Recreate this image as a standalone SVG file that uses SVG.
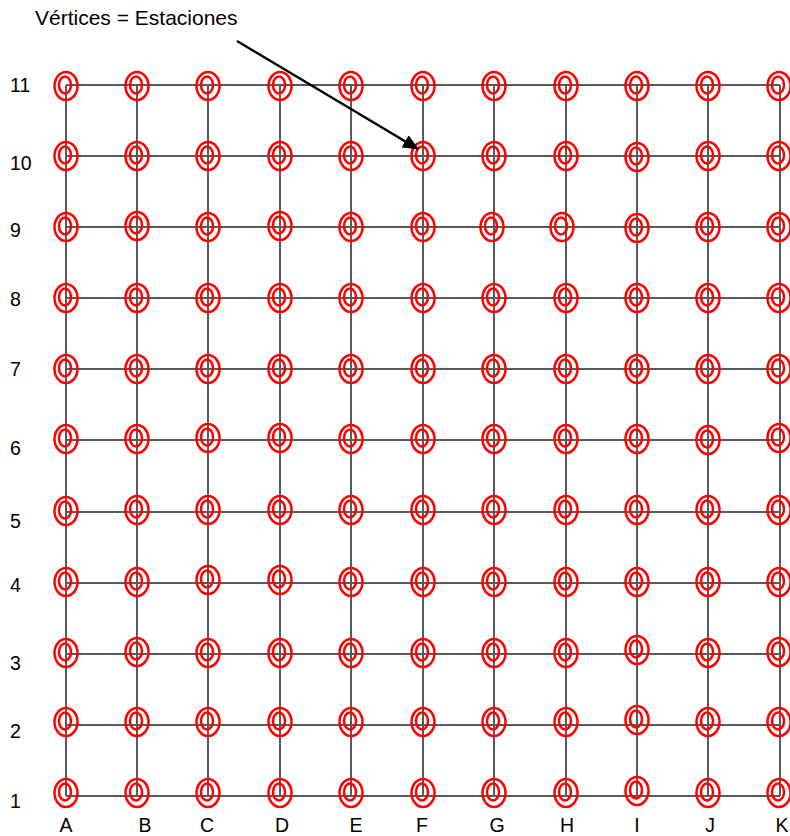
<svg xmlns="http://www.w3.org/2000/svg" xmlns:xlink="http://www.w3.org/1999/xlink" width="790" height="836" viewBox="0 0 790 836">
<style>
.bg{fill:#fff}
.grid line{stroke:#5a5a5a;stroke-width:2}
.st ellipse{fill:none;stroke:#ff0000;stroke-width:2.5}
.lbl{font-family:"Liberation Sans",Arial,sans-serif;font-size:19.5px;fill:#000}
.ttl{font-family:"Liberation Sans",Arial,sans-serif;font-size:21px;fill:#000}
.arrow{stroke:#000;stroke-width:2.5;fill:none}
</style>
<defs>
<g id="st" class="st"><ellipse cx="0" cy="0" rx="11.5" ry="14"/><ellipse cx="-1" cy="-1" rx="6" ry="8.5"/></g>
<marker id="ah" markerWidth="16" markerHeight="14" refX="15" refY="7" orient="auto" markerUnits="userSpaceOnUse" viewBox="0 0 16 14"><path d="M0,0 L16,7 L0,14 z" fill="#000"/></marker>
</defs>
<rect class="bg" x="0" y="0" width="790" height="836"/>
<g id="connectors" class="grid">
<line x1="66" y1="85" x2="780" y2="85"/>
<line x1="66" y1="156" x2="780" y2="156"/>
<line x1="66" y1="227" x2="780" y2="227"/>
<line x1="66" y1="298" x2="780" y2="298"/>
<line x1="66" y1="369" x2="780" y2="369"/>
<line x1="66" y1="440" x2="780" y2="440"/>
<line x1="66" y1="512" x2="780" y2="512"/>
<line x1="66" y1="583" x2="780" y2="583"/>
<line x1="66" y1="654" x2="780" y2="654"/>
<line x1="66" y1="725" x2="780" y2="725"/>
<line x1="66" y1="796" x2="780" y2="796"/>
<line x1="66" y1="85" x2="66" y2="796"/>
<line x1="137" y1="85" x2="137" y2="796"/>
<line x1="208" y1="85" x2="208" y2="796"/>
<line x1="280" y1="85" x2="280" y2="796"/>
<line x1="351" y1="85" x2="351" y2="796"/>
<line x1="423" y1="85" x2="423" y2="796"/>
<line x1="494" y1="85" x2="494" y2="796"/>
<line x1="566" y1="85" x2="566" y2="796"/>
<line x1="637" y1="85" x2="637" y2="796"/>
<line x1="708" y1="85" x2="708" y2="796"/>
<line x1="780" y1="85" x2="780" y2="796"/>
</g>
<g id="nodes">
<g id="A11" transform="translate(66 86)"><use href="#st"/></g>
<g id="B11" transform="translate(137 86)"><use href="#st"/></g>
<g id="C11" transform="translate(208 86)"><use href="#st"/></g>
<g id="D11" transform="translate(280 86)"><use href="#st"/></g>
<g id="E11" transform="translate(351 86)"><use href="#st"/></g>
<g id="F11" transform="translate(423 86)"><use href="#st"/></g>
<g id="G11" transform="translate(494 86)"><use href="#st"/></g>
<g id="H11" transform="translate(566 86)"><use href="#st"/></g>
<g id="I11" transform="translate(637 86)"><use href="#st"/></g>
<g id="J11" transform="translate(708 86)"><use href="#st"/></g>
<g id="K11" transform="translate(779 86)"><use href="#st"/></g>
<g id="A10" transform="translate(66 156)"><use href="#st"/></g>
<g id="B10" transform="translate(137 156)"><use href="#st"/></g>
<g id="C10" transform="translate(208 156)"><use href="#st"/></g>
<g id="D10" transform="translate(280 156)"><use href="#st"/></g>
<g id="E10" transform="translate(351 156)"><use href="#st"/></g>
<g id="F10" transform="translate(423 156)"><use href="#st"/></g>
<g id="G10" transform="translate(494 156)"><use href="#st"/></g>
<g id="H10" transform="translate(566 156)"><use href="#st"/></g>
<g id="I10" transform="translate(637 157)"><use href="#st"/></g>
<g id="J10" transform="translate(708 156)"><use href="#st"/></g>
<g id="K10" transform="translate(779 156)"><use href="#st"/></g>
<g id="A9" transform="translate(66 227)"><use href="#st"/></g>
<g id="B9" transform="translate(137 226)"><use href="#st"/></g>
<g id="C9" transform="translate(208 227)"><use href="#st"/></g>
<g id="D9" transform="translate(280 226)"><use href="#st"/></g>
<g id="E9" transform="translate(351 227)"><use href="#st"/></g>
<g id="F9" transform="translate(423 227)"><use href="#st"/></g>
<g id="G9" transform="translate(492 227)"><use href="#st"/></g>
<g id="H9" transform="translate(562 227)"><use href="#st"/></g>
<g id="I9" transform="translate(637 228)"><use href="#st"/></g>
<g id="J9" transform="translate(708 227)"><use href="#st"/></g>
<g id="K9" transform="translate(779 227)"><use href="#st"/></g>
<g id="A8" transform="translate(66 298)"><use href="#st"/></g>
<g id="B8" transform="translate(137 298)"><use href="#st"/></g>
<g id="C8" transform="translate(208 298)"><use href="#st"/></g>
<g id="D8" transform="translate(280 298)"><use href="#st"/></g>
<g id="E8" transform="translate(351 298)"><use href="#st"/></g>
<g id="F8" transform="translate(423 298)"><use href="#st"/></g>
<g id="G8" transform="translate(494 298)"><use href="#st"/></g>
<g id="H8" transform="translate(566 298)"><use href="#st"/></g>
<g id="I8" transform="translate(637 298)"><use href="#st"/></g>
<g id="J8" transform="translate(708 298)"><use href="#st"/></g>
<g id="K8" transform="translate(779 298)"><use href="#st"/></g>
<g id="A7" transform="translate(66 369)"><use href="#st"/></g>
<g id="B7" transform="translate(137 369)"><use href="#st"/></g>
<g id="C7" transform="translate(208 369)"><use href="#st"/></g>
<g id="D7" transform="translate(280 369)"><use href="#st"/></g>
<g id="E7" transform="translate(351 369)"><use href="#st"/></g>
<g id="F7" transform="translate(423 369)"><use href="#st"/></g>
<g id="G7" transform="translate(494 369)"><use href="#st"/></g>
<g id="H7" transform="translate(566 369)"><use href="#st"/></g>
<g id="I7" transform="translate(637 369)"><use href="#st"/></g>
<g id="J7" transform="translate(708 369)"><use href="#st"/></g>
<g id="K7" transform="translate(779 369)"><use href="#st"/></g>
<g id="A6" transform="translate(66 439)"><use href="#st"/></g>
<g id="B6" transform="translate(137 439)"><use href="#st"/></g>
<g id="C6" transform="translate(208 438)"><use href="#st"/></g>
<g id="D6" transform="translate(280 438)"><use href="#st"/></g>
<g id="E6" transform="translate(351 439)"><use href="#st"/></g>
<g id="F6" transform="translate(423 439)"><use href="#st"/></g>
<g id="G6" transform="translate(494 439)"><use href="#st"/></g>
<g id="H6" transform="translate(566 439)"><use href="#st"/></g>
<g id="I6" transform="translate(637 439)"><use href="#st"/></g>
<g id="J6" transform="translate(708 440)"><use href="#st"/></g>
<g id="K6" transform="translate(779 438)"><use href="#st"/></g>
<g id="A5" transform="translate(66 511)"><use href="#st"/></g>
<g id="B5" transform="translate(137 510)"><use href="#st"/></g>
<g id="C5" transform="translate(208 510)"><use href="#st"/></g>
<g id="D5" transform="translate(280 510)"><use href="#st"/></g>
<g id="E5" transform="translate(351 510)"><use href="#st"/></g>
<g id="F5" transform="translate(423 510)"><use href="#st"/></g>
<g id="G5" transform="translate(494 510)"><use href="#st"/></g>
<g id="H5" transform="translate(566 510)"><use href="#st"/></g>
<g id="I5" transform="translate(637 510)"><use href="#st"/></g>
<g id="J5" transform="translate(708 510)"><use href="#st"/></g>
<g id="K5" transform="translate(779 510)"><use href="#st"/></g>
<g id="A4" transform="translate(66 582)"><use href="#st"/></g>
<g id="B4" transform="translate(137 582)"><use href="#st"/></g>
<g id="C4" transform="translate(208 580)"><use href="#st"/></g>
<g id="D4" transform="translate(280 580)"><use href="#st"/></g>
<g id="E4" transform="translate(351 582)"><use href="#st"/></g>
<g id="F4" transform="translate(423 582)"><use href="#st"/></g>
<g id="G4" transform="translate(494 582)"><use href="#st"/></g>
<g id="H4" transform="translate(566 582)"><use href="#st"/></g>
<g id="I4" transform="translate(637 582)"><use href="#st"/></g>
<g id="J4" transform="translate(708 582)"><use href="#st"/></g>
<g id="K4" transform="translate(779 582)"><use href="#st"/></g>
<g id="A3" transform="translate(66 653)"><use href="#st"/></g>
<g id="B3" transform="translate(137 652)"><use href="#st"/></g>
<g id="C3" transform="translate(208 653)"><use href="#st"/></g>
<g id="D3" transform="translate(280 653)"><use href="#st"/></g>
<g id="E3" transform="translate(351 653)"><use href="#st"/></g>
<g id="F3" transform="translate(423 653)"><use href="#st"/></g>
<g id="G3" transform="translate(494 653)"><use href="#st"/></g>
<g id="H3" transform="translate(566 653)"><use href="#st"/></g>
<g id="I3" transform="translate(637 650)"><use href="#st"/></g>
<g id="J3" transform="translate(708 653)"><use href="#st"/></g>
<g id="K3" transform="translate(779 652)"><use href="#st"/></g>
<g id="A2" transform="translate(66 722)"><use href="#st"/></g>
<g id="B2" transform="translate(137 722)"><use href="#st"/></g>
<g id="C2" transform="translate(208 722)"><use href="#st"/></g>
<g id="D2" transform="translate(280 722)"><use href="#st"/></g>
<g id="E2" transform="translate(351 722)"><use href="#st"/></g>
<g id="F2" transform="translate(423 722)"><use href="#st"/></g>
<g id="G2" transform="translate(494 722)"><use href="#st"/></g>
<g id="H2" transform="translate(566 722)"><use href="#st"/></g>
<g id="I2" transform="translate(637 720)"><use href="#st"/></g>
<g id="J2" transform="translate(708 722)"><use href="#st"/></g>
<g id="K2" transform="translate(779 722)"><use href="#st"/></g>
<g id="A1" transform="translate(66 793)"><use href="#st"/></g>
<g id="B1" transform="translate(137 793)"><use href="#st"/></g>
<g id="C1" transform="translate(208 793)"><use href="#st"/></g>
<g id="D1" transform="translate(280 793)"><use href="#st"/></g>
<g id="E1" transform="translate(351 793)"><use href="#st"/></g>
<g id="F1" transform="translate(423 793)"><use href="#st"/></g>
<g id="G1" transform="translate(494 793)"><use href="#st"/></g>
<g id="H1" transform="translate(566 793)"><use href="#st"/></g>
<g id="I1" transform="translate(637 791)"><use href="#st"/></g>
<g id="J1" transform="translate(708 793)"><use href="#st"/></g>
<g id="K1" transform="translate(779 793)"><use href="#st"/></g>
</g>
<g id="row-labels" class="lbl">
<text x="10" y="92">11</text>
<text x="10" y="170">10</text>
<text x="10" y="237">9</text>
<text x="10" y="306">8</text>
<text x="10" y="376">7</text>
<text x="10" y="455">6</text>
<text x="10" y="528">5</text>
<text x="10" y="592">4</text>
<text x="10" y="670">3</text>
<text x="10" y="738">2</text>
<text x="10" y="808">1</text>
</g>
<g id="col-labels" class="lbl" text-anchor="middle">
<text x="66" y="832">A</text>
<text x="145" y="832">B</text>
<text x="207" y="832">C</text>
<text x="282" y="832">D</text>
<text x="356" y="832">E</text>
<text x="422" y="832">F</text>
<text x="497" y="832">G</text>
<text x="567" y="832">H</text>
<text x="637" y="832">I</text>
<text x="710" y="832">J</text>
<text x="782" y="832">K</text>
</g>
<g id="annotation">
<text class="ttl" x="35" y="25">Vértices = Estaciones</text>
<line class="arrow" x1="237" y1="41" x2="418" y2="149" marker-end="url(#ah)"/>
</g>
</svg>
